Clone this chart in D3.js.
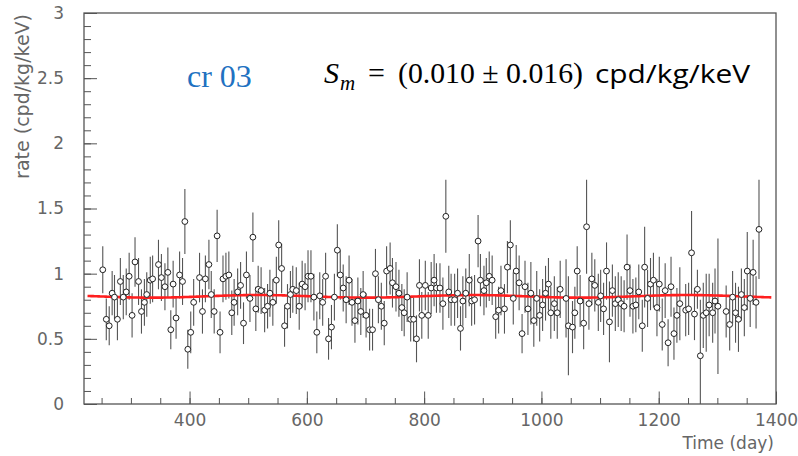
<!DOCTYPE html>
<html>
<head>
<meta charset="utf-8">
<script src="https://cdn.jsdelivr.net/npm/d3@7"></script>
<style>
  html, body { margin: 0; padding: 0; background: #fff; }
  svg { display: block; }
</style>
</head>
<body>
<svg id="chart"></svg>
<script>
// day of each measurement
const days = [
  252, 258, 263, 268, 272, 277, 282, 287, 292, 297, 302, 307, 313, 318, 323, 327, 333, 337, 347, 352,
  358, 363, 368, 372, 377, 383, 388, 392, 397, 402, 407, 417, 422, 427, 433, 437, 442, 447, 452, 457,
  462, 467, 472,
  476, 482, 487, 492, 497, 503, 508, 513, 517, 522, 528, 533, 537, 542, 548, 552, 557, 562, 567, 572,
  576, 582, 587, 592, 597, 602, 607, 612, 617, 622, 627, 632, 637, 642, 647, 652, 657, 662, 667, 672,
  677, 682, 687, 692, 696, 701,
  707, 712, 717, 722, 727, 732, 736, 742, 746, 752, 757, 762, 766, 771, 777, 782, 787, 792, 796, 802,
  807, 812, 817, 821, 827, 832, 837, 842, 846, 852, 857, 862, 866, 871, 877, 881, 886, 892, 896, 902,
  906, 911, 916, 922, 927, 931,
  937, 942, 947, 952, 957, 962, 967, 972, 977, 982, 987, 992, 997, 1002, 1007, 1012, 1016, 1022, 1027, 1032,
  1042, 1046, 1053, 1057, 1061, 1066, 1072, 1077, 1081, 1086, 1091, 1097, 1101, 1106, 1111, 1116, 1121, 1126, 1131, 1136,
  1141, 1146, 1151, 1156, 1161, 1166,
  1172, 1176, 1181, 1186, 1191, 1197, 1201, 1206, 1211, 1216, 1221, 1226, 1231, 1236, 1246, 1251, 1256, 1261, 1266, 1271,
  1276, 1281, 1286, 1292, 1296, 1301, 1315, 1321, 1326, 1331, 1336, 1341, 1346, 1351, 1356, 1361, 1366, 1371
];

// residual rate (cpd/kg/keV)
const rates = [
  1.03, 0.65, 0.60, 0.85, 0.82, 0.65, 0.94, 0.82, 0.86, 0.98, 0.68, 1.09, 0.94, 0.71, 0.78, 0.84, 0.95, 0.96, 1.07, 0.97,
  0.90, 1.01, 0.57, 0.92, 0.66, 0.99, 0.94, 1.40, 0.42, 0.55, 0.78, 0.97, 0.71, 0.96, 1.07, 0.84, 0.71, 1.29, 0.55, 0.96,
  0.98, 0.99, 0.70,
  0.78, 0.86, 0.91, 0.62, 0.99, 0.81, 1.28, 0.73, 0.88, 0.87, 0.72, 0.75, 0.85, 0.78, 0.95, 1.22, 1.04, 0.60, 0.75, 0.84,
  0.88, 0.87, 0.75, 0.92, 0.90, 0.98, 0.98, 0.82, 0.55, 0.83, 0.78, 0.98, 0.50, 0.59, 0.82, 1.18, 0.99, 0.89, 0.80, 0.95,
  0.78, 0.64, 0.79, 0.71, 0.84, 0.68,
  0.57, 0.57, 1.00, 0.80, 0.75, 0.62, 1.02, 1.04, 0.93, 0.90, 0.85, 0.74, 0.70, 0.82, 0.65, 0.65, 0.50, 0.91, 0.68, 0.91,
  0.68, 0.89, 0.95, 0.89, 0.89, 0.77, 1.44, 0.86, 0.80, 0.80, 0.85, 0.58, 0.79, 0.85, 0.95, 0.79, 0.80, 1.25, 0.95, 0.87,
  0.93, 0.98, 0.95, 0.67, 0.72, 0.87,
  0.73, 1.05, 1.22, 0.81, 1.02, 0.93, 0.54, 0.90, 0.73, 0.85, 0.64, 0.81, 0.68, 0.76, 0.85, 0.92, 0.70, 0.77, 0.70, 0.88,
  0.81, 0.60, 0.59, 0.70, 1.02, 0.79, 0.62, 1.36, 0.77, 0.96, 0.91, 0.78, 0.83, 0.73, 1.02, 0.63, 0.87, 0.77, 0.80, 0.77,
  0.75, 1.05, 0.87, 0.75, 0.76, 0.86,
  0.60, 1.05, 0.81, 0.92, 0.95, 0.74, 0.92, 0.61, 0.87, 0.47, 0.90, 0.54, 0.68, 0.77, 0.72, 0.73, 1.16, 0.69, 0.88, 0.37,
  0.68, 0.70, 0.76, 0.70, 0.79, 0.75, 0.71, 0.61, 0.82, 0.70, 0.65, 0.84, 0.74, 1.02, 0.81, 1.01, 0.78, 1.34
];

// statistical error on each rate
const errors = [
  0.18, 0.16, 0.15, 0.17, 0.17, 0.16, 0.18, 0.17, 0.18, 0.18, 0.17, 0.19, 0.18, 0.17, 0.18, 0.17, 0.18, 0.18, 0.19, 0.18,
  0.18, 0.19, 0.15, 0.18, 0.16, 0.18, 0.18, 0.25, 0.15, 0.16, 0.18, 0.19, 0.17, 0.18, 0.19, 0.18, 0.17, 0.20, 0.16, 0.18,
  0.18, 0.18, 0.17,
  0.18, 0.18, 0.18, 0.16, 0.18, 0.18, 0.19, 0.17, 0.18, 0.18, 0.17, 0.17, 0.18, 0.18, 0.18, 0.19, 0.19, 0.16, 0.17, 0.18,
  0.18, 0.18, 0.18, 0.18, 0.18, 0.20, 0.20, 0.18, 0.16, 0.18, 0.18, 0.18, 0.16, 0.17, 0.18, 0.20, 0.19, 0.18, 0.18, 0.19,
  0.18, 0.17, 0.18, 0.18, 0.18, 0.17,
  0.16, 0.16, 0.19, 0.18, 0.18, 0.17, 0.19, 0.20, 0.19, 0.19, 0.18, 0.18, 0.18, 0.19, 0.17, 0.17, 0.18, 0.20, 0.18, 0.19,
  0.18, 0.20, 0.20, 0.19, 0.19, 0.20, 0.28, 0.20, 0.20, 0.20, 0.19, 0.17, 0.19, 0.19, 0.20, 0.19, 0.19, 0.20, 0.20, 0.19,
  0.19, 0.19, 0.19, 0.17, 0.18, 0.19,
  0.19, 0.20, 0.19, 0.20, 0.20, 0.21, 0.15, 0.20, 0.20, 0.24, 0.20, 0.21, 0.20, 0.20, 0.21, 0.20, 0.20, 0.21, 0.20, 0.22,
  0.30, 0.38, 0.20, 0.20, 0.19, 0.20, 0.20, 0.36, 0.20, 0.20, 0.20, 0.22, 0.20, 0.20, 0.22, 0.31, 0.20, 0.21, 0.21, 0.21,
  0.20, 0.25, 0.20, 0.21, 0.21, 0.21,
  0.20, 0.31, 0.22, 0.20, 0.21, 0.22, 0.21, 0.20, 0.21, 0.18, 0.23, 0.20, 0.21, 0.28, 0.20, 0.20, 0.32, 0.20, 0.15, 0.43,
  0.25, 0.30, 0.24, 0.23, 0.25, 0.52, 0.20, 0.20, 0.20, 0.23, 0.25, 0.20, 0.22, 0.30, 0.22, 0.25, 0.20, 0.38
];

// fit: rate = A + Sm * cos(2pi (t - t0) / T)
const fitA = 0.826;
const fitSm = 0.010;
const fitT0 = 152.5;
const fitPeriod = 365.25;
const fitRange = [226, 1392];

const xTicks = [400, 600, 800, 1000, 1200, 1400];
const yTicks = [0, 0.5, 1, 1.5, 2, 2.5, 3];

const width = 798;
const height = 456;
const margin = { top: 13, right: 22, bottom: 52, left: 84 };

const svg = d3.select("#chart").attr("width", width).attr("height", height);

const xScale = d3.scaleLinear()
  .domain([220, 1400])
  .range([margin.left, width - margin.right]);

const yScale = d3.scaleLinear()
  .domain([0, 3])
  .range([height - margin.bottom, margin.top]);

const axisColor = "#555";
const labelColor = "#666";
const tickFont = "'DejaVu Sans', sans-serif";

// minor ticks
svg.append("g")
  .attr("transform", `translate(${margin.left},0)`)
  .call(d3.axisLeft(yScale).tickValues(d3.range(0, 3.001, 0.1)).tickSize(-7).tickFormat(""))
  .call(g => g.select(".domain").remove())
  .call(g => g.selectAll("line").attr("stroke", axisColor));

svg.append("g")
  .attr("transform", `translate(0,${height - margin.bottom})`)
  .call(d3.axisBottom(xScale).tickValues(d3.range(250, 1401, 50)).tickSize(-6).tickFormat(""))
  .call(g => g.select(".domain").remove())
  .call(g => g.selectAll("line").attr("stroke", axisColor));

// major ticks with labels
svg.append("g")
  .attr("transform", `translate(${margin.left},0)`)
  .call(d3.axisLeft(yScale).tickValues(yTicks).tickSize(-13).tickPadding(20).tickFormat(d3.format("")))
  .call(g => g.select(".domain").remove())
  .call(g => g.selectAll("line").attr("stroke", axisColor))
  .call(g => g.selectAll("text")
    .attr("fill", labelColor)
    .style("font-family", tickFont)
    .style("font-size", "17px"));

svg.append("g")
  .attr("transform", `translate(0,${height - margin.bottom})`)
  .call(d3.axisBottom(xScale).tickValues(xTicks).tickSize(-12.5).tickPadding(10).tickFormat(d3.format("")))
  .call(g => g.select(".domain").remove())
  .call(g => g.selectAll("line").attr("stroke", axisColor))
  .call(g => g.selectAll("text")
    .attr("fill", labelColor)
    .style("font-family", tickFont)
    .style("font-size", "17px"));

// frame
svg.append("rect")
  .attr("x", margin.left)
  .attr("y", margin.top)
  .attr("width", width - margin.left - margin.right)
  .attr("height", height - margin.top - margin.bottom)
  .attr("fill", "none")
  .attr("stroke", axisColor)
  .attr("stroke-width", 1.3);

// axis titles
svg.append("text")
  .attr("transform", `translate(29,${margin.top + 1}) rotate(-90)`)
  .attr("text-anchor", "end")
  .attr("fill", labelColor)
  .style("font-family", tickFont)
  .style("font-size", "19px")
  .text("rate (cpd/kg/keV)");

svg.append("text")
  .attr("x", width - margin.right - 2)
  .attr("y", 449)
  .attr("text-anchor", "end")
  .attr("fill", labelColor)
  .style("font-family", tickFont)
  .style("font-size", "17px")
  .text("Time (day)");

// clip data to the frame
svg.append("clipPath")
  .attr("id", "plot-clip")
  .append("rect")
  .attr("x", margin.left)
  .attr("y", margin.top)
  .attr("width", width - margin.left - margin.right)
  .attr("height", height - margin.top - margin.bottom);

const points = days.map((d, i) => ({ day: d, rate: rates[i], err: errors[i] }));

const plot = svg.append("g").attr("clip-path", "url(#plot-clip)");

plot.selectAll("line.err")
  .data(points)
  .enter()
  .append("line")
  .attr("class", "err")
  .attr("x1", d => xScale(d.day))
  .attr("x2", d => xScale(d.day))
  .attr("y1", d => yScale(d.rate - d.err))
  .attr("y2", d => yScale(d.rate + d.err))
  .attr("stroke", "#555")
  .attr("stroke-width", 1.1);

// fitted modulation curve
const fitDays = d3.range(fitRange[0], fitRange[1] + 1, 2);
const fitLine = d3.line()
  .x(t => xScale(t))
  .y(t => yScale(fitA + fitSm * Math.cos(2 * Math.PI * (t - fitT0) / fitPeriod)));

plot.append("path")
  .datum(fitDays)
  .attr("d", fitLine)
  .attr("fill", "none")
  .attr("stroke", "#ff1f1f")
  .attr("stroke-width", 2.6);

plot.selectAll("circle")
  .data(points)
  .enter()
  .append("circle")
  .attr("cx", d => xScale(d.day))
  .attr("cy", d => yScale(d.rate))
  .attr("r", 2.9)
  .attr("fill", "#fff")
  .attr("stroke", "#222")
  .attr("stroke-width", 1);

// annotations
svg.append("text")
  .attr("x", 187)
  .attr("y", 87)
  .attr("fill", "#2171c1")
  .style("font-family", "'Liberation Serif', 'Times New Roman', serif")
  .style("font-size", "32px")
  .text("cr 03");

const serif = "'Liberation Serif', 'DejaVu Serif', serif";

svg.append("text")
  .attr("x", 324)
  .attr("y", 83)
  .style("font-family", serif)
  .style("font-style", "italic")
  .style("font-size", "30px")
  .text("S");

svg.append("text")
  .attr("x", 340)
  .attr("y", 90)
  .style("font-family", serif)
  .style("font-style", "italic")
  .style("font-size", "21px")
  .text("m");

svg.append("text")
  .attr("x", 368)
  .attr("y", 83)
  .style("font-family", serif)
  .style("font-size", "30px")
  .text("=");

svg.append("text")
  .attr("x", 398)
  .attr("y", 83)
  .attr("textLength", 185)
  .attr("lengthAdjust", "spacingAndGlyphs")
  .style("font-family", serif)
  .style("font-size", "29px")
  .text("(0.010 \u00b1 0.016)");

svg.append("text")
  .attr("x", 595)
  .attr("y", 83)
  .attr("textLength", 155)
  .attr("lengthAdjust", "spacingAndGlyphs")
  .style("font-family", "'Open Sans', 'Noto Sans', sans-serif")
  .style("font-size", "25px")
  .text("cpd/kg/keV");
</script>
</body>
</html>
